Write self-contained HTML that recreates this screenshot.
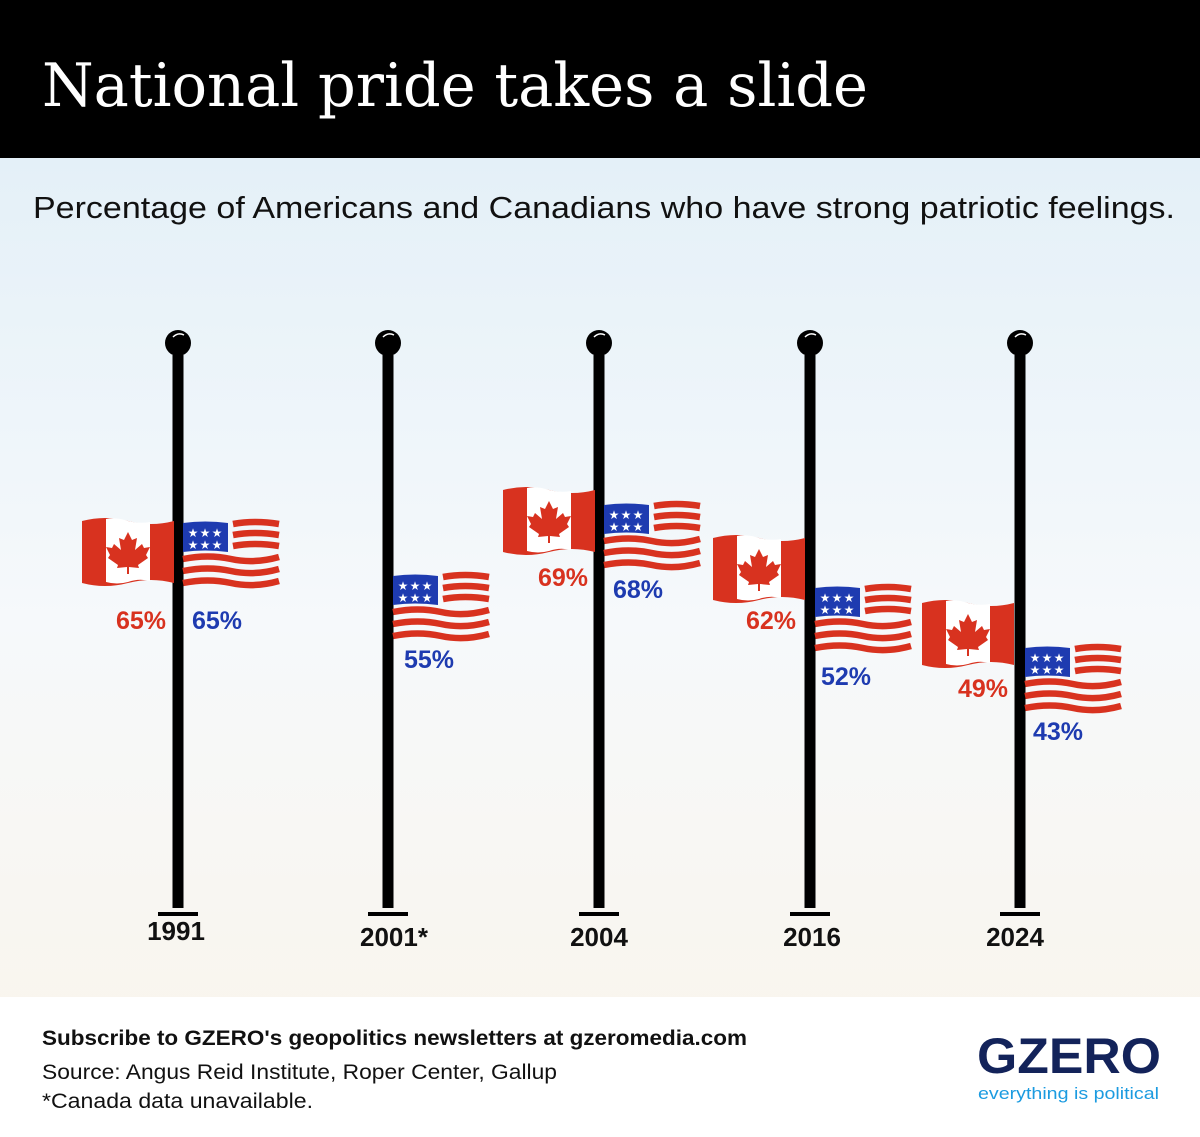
<!DOCTYPE html>
<html><head><meta charset="utf-8"><style>
body{margin:0;width:1200px;height:1132px;overflow:hidden;font-family:"Liberation Sans",sans-serif}
</style></head><body>
<svg width="1200" height="1132" viewBox="0 0 1200 1132" xmlns="http://www.w3.org/2000/svg">
<defs>
<linearGradient id="bg" x1="0" y1="0" x2="0" y2="1">
<stop offset="0" stop-color="#deedf7"/><stop offset="0.55" stop-color="#f6f9fb"/><stop offset="1" stop-color="#faf4ea"/>
</linearGradient>
<g id="ca">
<path d="M0,3 Q23,-3 46,3 T92,3 V65 Q69,59 46,65 T0,65 Z" fill="#d8321f"/>
<path d="M24,1 Q35,-1 46,3 Q57,6 68,4 V63 Q57,60 46,64 Q35,67 24,64 Z" fill="#fff"/>
<path d="M46,14 L50,22 L55,20 L53,32 L60,26 L62,30 L68,29 L64,37 L66,40 L56,47 L57,50 L47,49 L47,56 L45,56 L45,49 L35,50 L36,47 L26,40 L28,37 L24,29 L30,30 L32,26 L39,32 L37,20 L42,22 Z" fill="#d8321f"/>
</g>
<g id="us">
<g fill="none" stroke="#d8321f" stroke-width="6.5">
<path d="M50,3 Q72,-1 96,3"/>
<path d="M50,14 Q72,10 96,14"/>
<path d="M50,25 Q72,21 96,25"/>
<path d="M0,38 Q25,33 48,38 T96,36"/>
<path d="M0,50 Q25,45 48,50 T96,48"/>
<path d="M0,62 Q25,57 48,62 T96,60"/>
</g>
<path d="M0,2 Q22,-1 45,2 V31 Q22,28 0,31 Z" fill="#1e3bb0"/>
<g fill="#fff" font-size="12" font-family="DejaVu Sans" text-anchor="middle">
<text x="10" y="16">★</text><text x="22" y="16">★</text><text x="34" y="16">★</text>
<text x="10" y="28">★</text><text x="22" y="28">★</text><text x="34" y="28">★</text>
</g>
</g>
<g id="pole">
<rect x="-5.5" y="355" width="11" height="553" fill="#000"/>
<circle cx="0" cy="343" r="13" fill="#000"/>
<path d="M-5,337 Q0,332 6,335" stroke="#fff" stroke-width="1.5" fill="none"/>
<rect x="-20" y="912" width="40" height="4" fill="#000"/>
</g>
</defs>
<rect width="1200" height="1132" fill="url(#bg)"/>
<rect width="1200" height="158" fill="#000"/>
<text x="42" y="106" fill="#fff" font-family="DejaVu Serif,serif" font-size="60" textLength="826" lengthAdjust="spacingAndGlyphs">National pride takes a slide</text>
<text x="33" y="218" fill="#111" font-size="31" textLength="1142" lengthAdjust="spacingAndGlyphs">Percentage of Americans and Canadians who have strong patriotic feelings.</text>

<use href="#pole" x="178"/><use href="#pole" x="388"/><use href="#pole" x="599"/><use href="#pole" x="810"/><use href="#pole" x="1020"/>

<use href="#ca" x="82" y="518"/><use href="#us" x="183" y="521"/>
<use href="#us" x="393" y="574"/>
<use href="#ca" x="503" y="487"/><use href="#us" x="604" y="503"/>
<use href="#ca" x="713" y="535"/><use href="#us" x="815" y="586"/>
<use href="#ca" x="922" y="600"/><use href="#us" x="1025" y="646"/>

<g font-size="25" font-weight="bold" text-anchor="middle">
<text x="141" y="629" fill="#d8321f">65%</text><text x="217" y="629" fill="#1e3bb0">65%</text>
<text x="429" y="668" fill="#1e3bb0">55%</text>
<text x="563" y="586" fill="#d8321f">69%</text><text x="638" y="598" fill="#1e3bb0">68%</text>
<text x="771" y="629" fill="#d8321f">62%</text><text x="846" y="685" fill="#1e3bb0">52%</text>
<text x="983" y="697" fill="#d8321f">49%</text><text x="1058" y="740" fill="#1e3bb0">43%</text>
</g>
<g font-size="26" font-weight="bold" text-anchor="middle" fill="#111">
<text x="176" y="940">1991</text><text x="394" y="946">2001*</text><text x="599" y="946">2004</text><text x="812" y="946">2016</text><text x="1015" y="946">2024</text>
</g>
<rect x="0" y="997" width="1200" height="135" fill="#fff"/>
<text x="42" y="1045" font-size="21" font-weight="bold" fill="#111" textLength="705" lengthAdjust="spacingAndGlyphs">Subscribe to GZERO's geopolitics newsletters at gzeromedia.com</text>
<text x="42" y="1079" font-size="21" fill="#111" textLength="515" lengthAdjust="spacingAndGlyphs">Source: Angus Reid Institute, Roper Center, Gallup</text>
<text x="42" y="1108" font-size="21" fill="#111" textLength="271" lengthAdjust="spacingAndGlyphs">*Canada data unavailable.</text>
<text x="977" y="1073" font-size="50" font-weight="bold" fill="#13235a" textLength="184" lengthAdjust="spacingAndGlyphs">GZERO</text>
<text x="978" y="1099" font-size="17" fill="#1b9be0" textLength="181" lengthAdjust="spacingAndGlyphs">everything is political</text>
</svg>
</body></html>
